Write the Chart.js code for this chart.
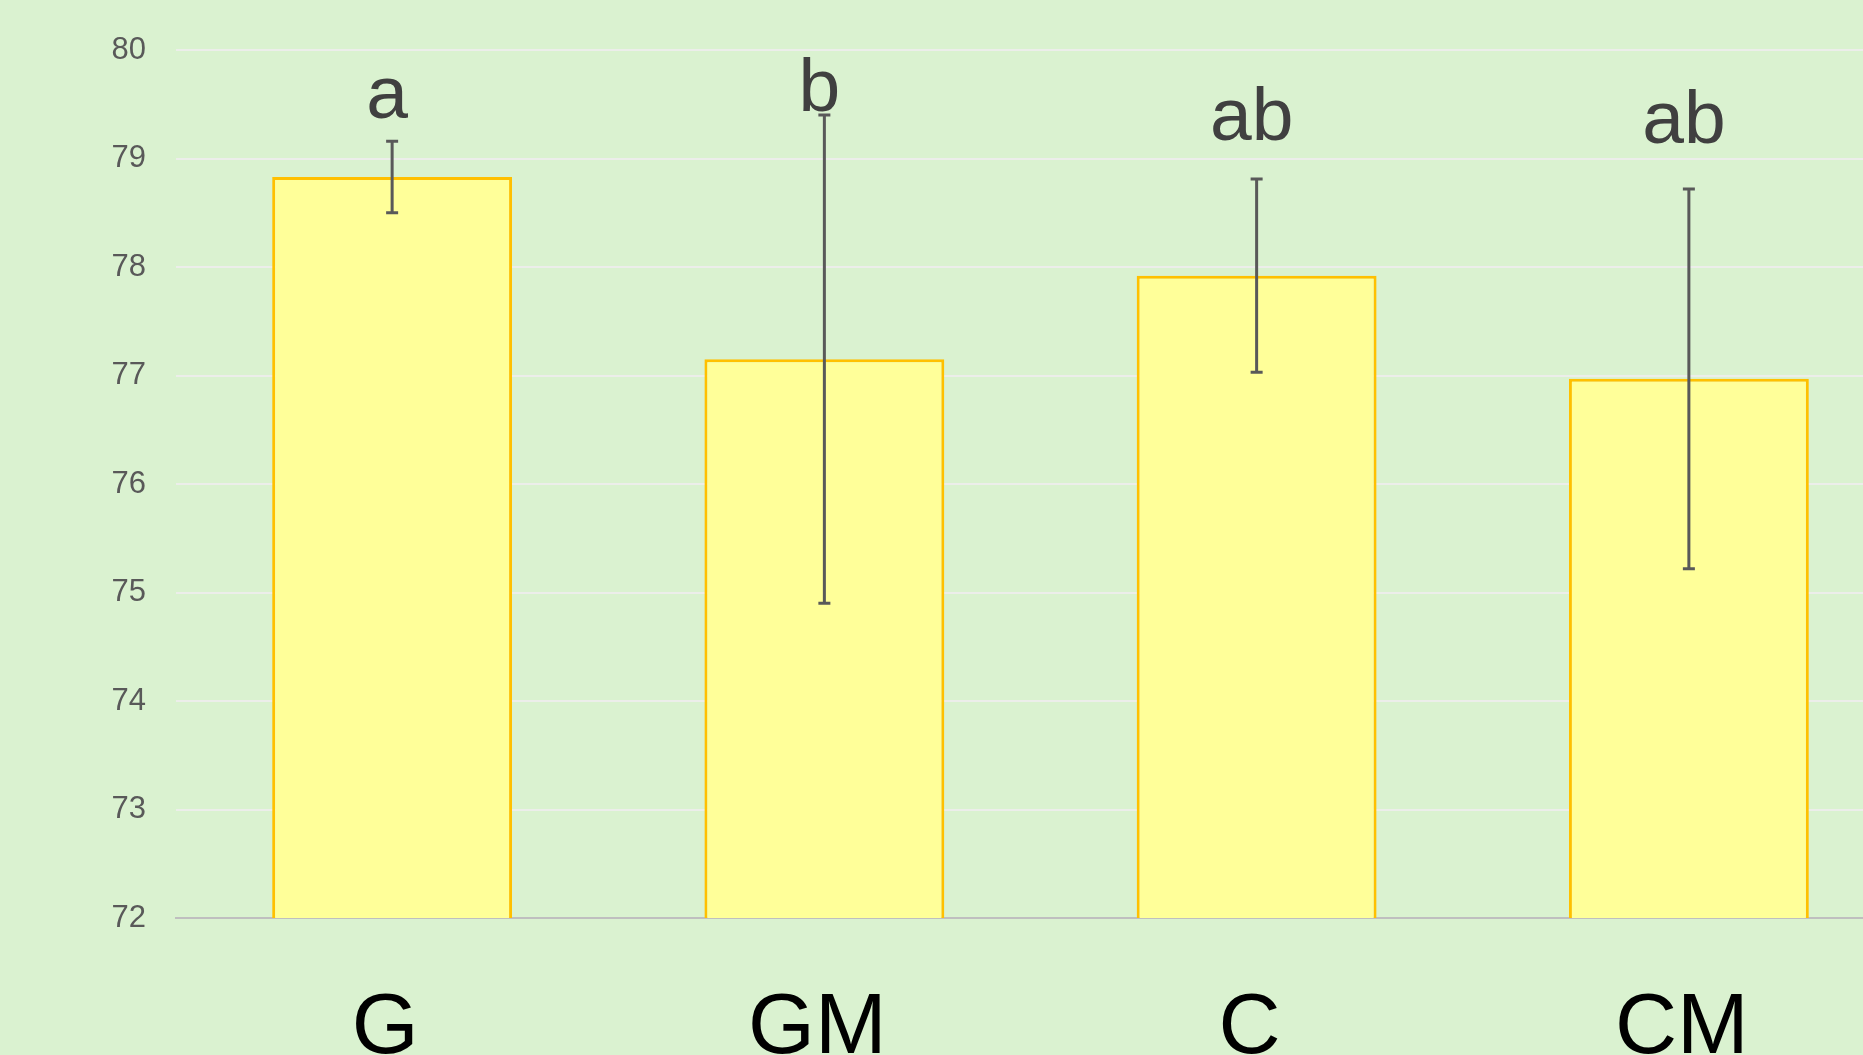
<!DOCTYPE html>
<html>
<head>
<meta charset="utf-8">
<script src="https://cdn.jsdelivr.net/npm/chart.js@4/dist/chart.umd.min.js"></script>
<style>
  html, body { margin: 0; padding: 0; background: #DAF2D0; overflow: hidden; width: 1863px; height: 1055px; }
  #chart { position: absolute; left: 0; top: 0; }
</style>
</head>
<body>
<canvas id="chart" width="1960" height="1100"></canvas>
<script>
const categories = ["G", "GM", "C", "CM"];
const means = [78.83, 77.15, 77.92, 76.97];
const errors = [0.33, 2.25, 0.89, 1.75];
const letters = ["a", "b", "ab", "ab"];
const letterLevels = [79.37, 79.44, 79.17, 79.14];
const yTicks = [72, 73, 74, 75, 76, 77, 78, 79, 80];

// error bars + significance letters, placed through the chart scales
const errorBars = {
  id: "errorBars",
  afterDatasetsDraw(chart) {
    const ctx = chart.ctx;
    const y = chart.scales.y;
    const meta = chart.getDatasetMeta(0);
    ctx.save();
    ctx.strokeStyle = "#595959";
    ctx.lineWidth = 3;
    meta.data.forEach((bar, i) => {
      const top = y.getPixelForValue(means[i] + errors[i]);
      const bot = y.getPixelForValue(means[i] - errors[i]);
      ctx.beginPath();
      ctx.moveTo(bar.x, top);
      ctx.lineTo(bar.x, bot);
      ctx.moveTo(bar.x - 6, top);
      ctx.lineTo(bar.x + 6, top);
      ctx.moveTo(bar.x - 6, bot);
      ctx.lineTo(bar.x + 6, bot);
      ctx.stroke();
    });
    ctx.fillStyle = "#404040";
    ctx.font = "75px 'Liberation Sans', Arial, sans-serif";
    ctx.textAlign = "center";
    ctx.textBaseline = "alphabetic";
    meta.data.forEach((bar, i) => {
      ctx.fillText(letters[i], bar.x - 5, y.getPixelForValue(letterLevels[i]));
    });
    ctx.restore();
  }
};

new Chart(document.getElementById("chart"), {
  type: "bar",
  data: {
    labels: categories,
    datasets: [{
      data: means,
      backgroundColor: "#FFFF99",
      borderColor: "#FFC000",
      borderWidth: 3,
      categoryPercentage: 1,
      barPercentage: 0.555
    }]
  },
  options: {
    responsive: false,
    animation: false,
    layout: { padding: { left: 0, top: 50, right: 55, bottom: 0 } },
    plugins: { legend: { display: false }, tooltip: { enabled: false } },
    scales: {
      x: {
        grid: { display: false },
        border: { display: true, color: "#BFBFBF", width: 2 },
        ticks: {
          color: "#000000",
          padding: 52,
          labelOffset: -7,
          font: { family: "'Liberation Sans', Arial, sans-serif", size: 86 }
        },
        afterFit(scale) { scale.height = 182; }
      },
      y: {
        min: 72,
        max: 80,
        afterBuildTicks(scale) { scale.ticks = yTicks.map(v => ({ value: v })); },
        grid: { color: "#ECEEEA", lineWidth: 2, drawTicks: false },
        border: { display: false },
        ticks: {
          color: "#595959",
          padding: 30,
          font: { family: "'Liberation Sans', Arial, sans-serif", size: 31 }
        },
        afterFit(scale) { scale.width = 176; }
      }
    }
  },
  plugins: [errorBars]
});
</script>
</body>
</html>
